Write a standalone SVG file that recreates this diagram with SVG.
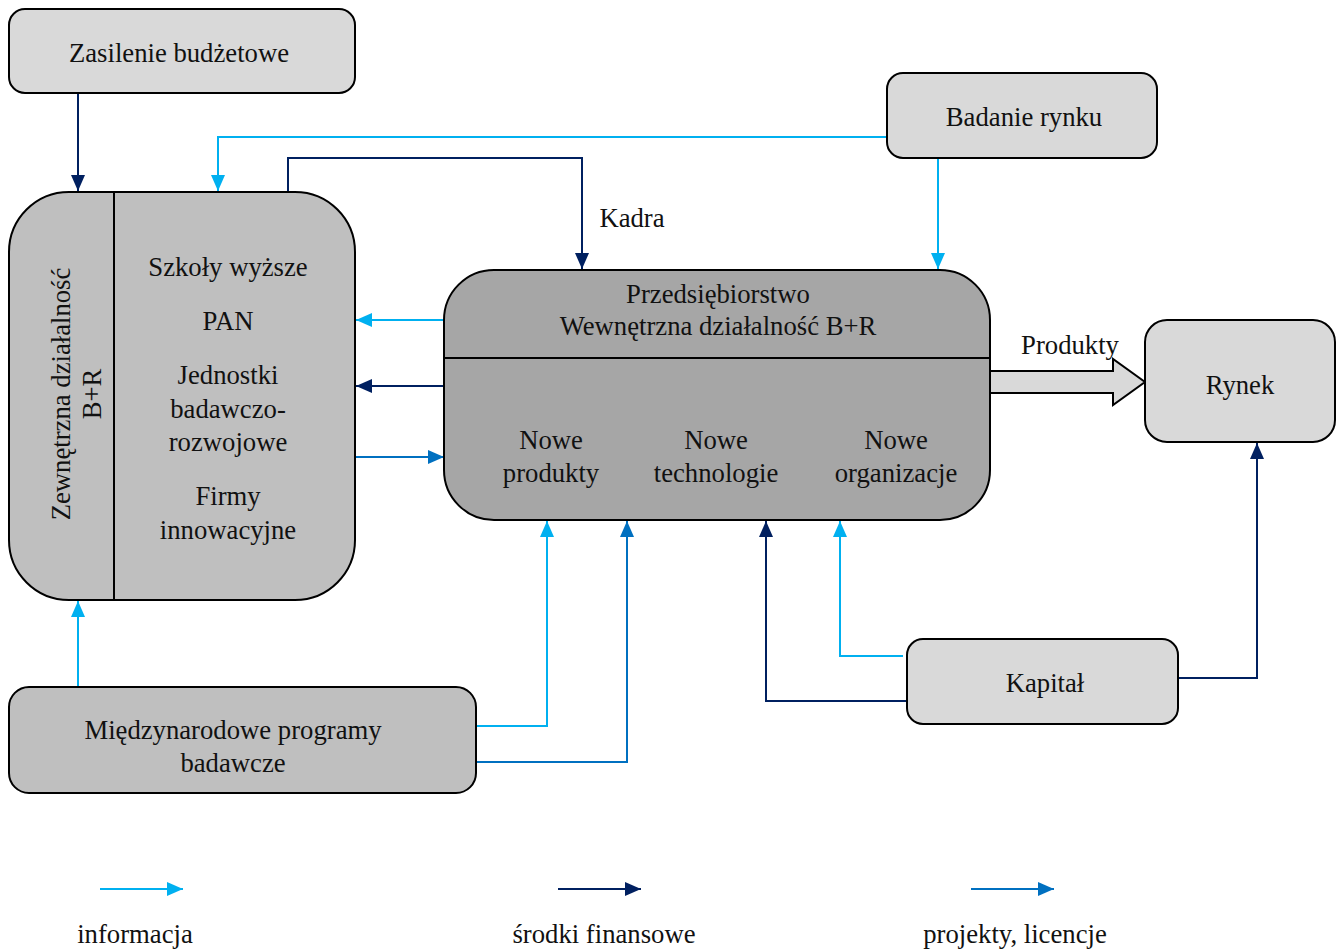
<svg xmlns="http://www.w3.org/2000/svg" width="1341" height="951" viewBox="0 0 1341 951">
  <style>
    .box { stroke: #000; stroke-width: 2; }
    .light { fill: #d9d9d9; }
    .mid { fill: #bfbfbf; }
    .dark { fill: #a6a6a6; }
    text { font-family: "Liberation Serif", "Times New Roman", serif; font-size: 26.7px; fill: #111; text-anchor: middle; }
    .c { fill: none; stroke-width: 2; }
    .info { stroke: #00b0f0; }
    .fin { stroke: #002060; }
    .proj { stroke: #0070c0; }
  </style>
  <defs>
    <marker id="aInfo" markerUnits="userSpaceOnUse" markerWidth="18" markerHeight="16" refX="16" refY="7" orient="auto">
      <path d="M0,0 L16,7 L0,14 z" fill="#00b0f0"/>
    </marker>
    <marker id="aFin" markerUnits="userSpaceOnUse" markerWidth="18" markerHeight="16" refX="16" refY="7" orient="auto">
      <path d="M0,0 L16,7 L0,14 z" fill="#002060"/>
    </marker>
    <marker id="aProj" markerUnits="userSpaceOnUse" markerWidth="18" markerHeight="16" refX="16" refY="7" orient="auto">
      <path d="M0,0 L16,7 L0,14 z" fill="#0070c0"/>
    </marker>
  </defs>

  <!-- connectors -->
  <g id="connectors">
    <path class="c fin" d="M78,93 V191" marker-end="url(#aFin)"/>
    <path class="c info" d="M887,137 H218 V191" marker-end="url(#aInfo)"/>
    <path class="c fin" d="M288,191 V158 H582 V269" marker-end="url(#aFin)"/>
    <path class="c info" d="M938,158 V269" marker-end="url(#aInfo)"/>
    <path class="c info" d="M444,320 H356" marker-end="url(#aInfo)"/>
    <path class="c fin" d="M444,386 H356" marker-end="url(#aFin)"/>
    <path class="c proj" d="M356,457 H444" marker-end="url(#aProj)"/>
    <path class="c fin" d="M547,359 V413" marker-end="url(#aFin)"/>
    <path class="c fin" d="M717,359 V413" marker-end="url(#aFin)"/>
    <path class="c fin" d="M887,359 V413" marker-end="url(#aFin)"/>
    <path class="c info" d="M78,687 V601" marker-end="url(#aInfo)"/>
    <path class="c info" d="M476,726 H547 V521" marker-end="url(#aInfo)"/>
    <path class="c proj" d="M476,762 H627 V521" marker-end="url(#aProj)"/>
    <path class="c fin" d="M907,701 H766 V521" marker-end="url(#aFin)"/>
    <path class="c info" d="M903,656 H840 V521" marker-end="url(#aInfo)"/>
    <path class="c fin" d="M1178,678 H1257 V443" marker-end="url(#aFin)"/>
    <!-- block arrow: products to market -->
    <path d="M990,371 H1113 V359 L1145,382 L1113,405 V393 H990 z" fill="#d9d9d9" stroke="#000" stroke-width="2"/>
    <text x="1070" y="354">Produkty</text>
    <text x="632" y="227">Kadra</text>
  </g>

  <g id="zasilenie">
    <rect class="box light" x="9" y="9" width="346" height="84" rx="16"/>
    <text x="179" y="62">Zasilenie budżetowe</text>
  </g>

  <g id="badanie-rynku">
    <rect class="box light" x="887" y="73" width="270" height="85" rx="16"/>
    <text x="1024" y="126">Badanie rynku</text>
  </g>

  <g id="zewnetrzna">
    <rect class="box mid" x="9" y="192" width="346" height="408" rx="60"/>
    <line x1="114" y1="192" x2="114" y2="600" stroke="#000" stroke-width="2"/>
    <text transform="translate(70,394) rotate(-90)">Zewnętrzna działalność</text>
    <text transform="translate(101,394) rotate(-90)">B+R</text>
    <text x="228" y="276">Szkoły wyższe</text>
    <text x="228" y="330">PAN</text>
    <text x="228" y="384">Jednostki</text>
    <text x="228" y="418">badawczo-</text>
    <text x="228" y="451">rozwojowe</text>
    <text x="228" y="505">Firmy</text>
    <text x="228" y="539">innowacyjne</text>
  </g>

  <g id="przedsiebiorstwo">
    <rect class="box dark" x="444" y="270" width="546" height="250" rx="50"/>
    <line x1="444" y1="358" x2="990" y2="358" stroke="#000" stroke-width="2"/>
    <text x="718" y="303">Przedsiębiorstwo</text>
    <text x="718" y="335">Wewnętrzna działalność B+R</text>
    <text x="551" y="449">Nowe</text>
    <text x="551" y="482">produkty</text>
    <text x="716" y="449">Nowe</text>
    <text x="716" y="482">technologie</text>
    <text x="896" y="449">Nowe</text>
    <text x="896" y="482">organizacje</text>
  </g>

  <g id="rynek">
    <rect class="box light" x="1145" y="320" width="190" height="122" rx="22"/>
    <text x="1240" y="394">Rynek</text>
  </g>

  <g id="kapital">
    <rect class="box light" x="907" y="639" width="271" height="85" rx="16"/>
    <text x="1045" y="692">Kapitał</text>
  </g>

  <g id="miedzynarodowe">
    <rect class="box mid" x="9" y="687" width="467" height="106" rx="20"/>
    <text x="233" y="739">Międzynarodowe programy</text>
    <text x="233" y="772">badawcze</text>
  </g>

  <g id="legenda">
    <path class="c info" d="M100,889 H183" stroke-width="3" marker-end="url(#aInfo)"/>
    <path class="c fin" d="M558,889 H641" stroke-width="3" marker-end="url(#aFin)"/>
    <path class="c proj" d="M971,889 H1054" stroke-width="3" marker-end="url(#aProj)"/>
    <text x="135" y="943">informacja</text>
    <text x="604" y="943">środki finansowe</text>
    <text x="1015" y="943">projekty, licencje</text>
  </g>
</svg>
